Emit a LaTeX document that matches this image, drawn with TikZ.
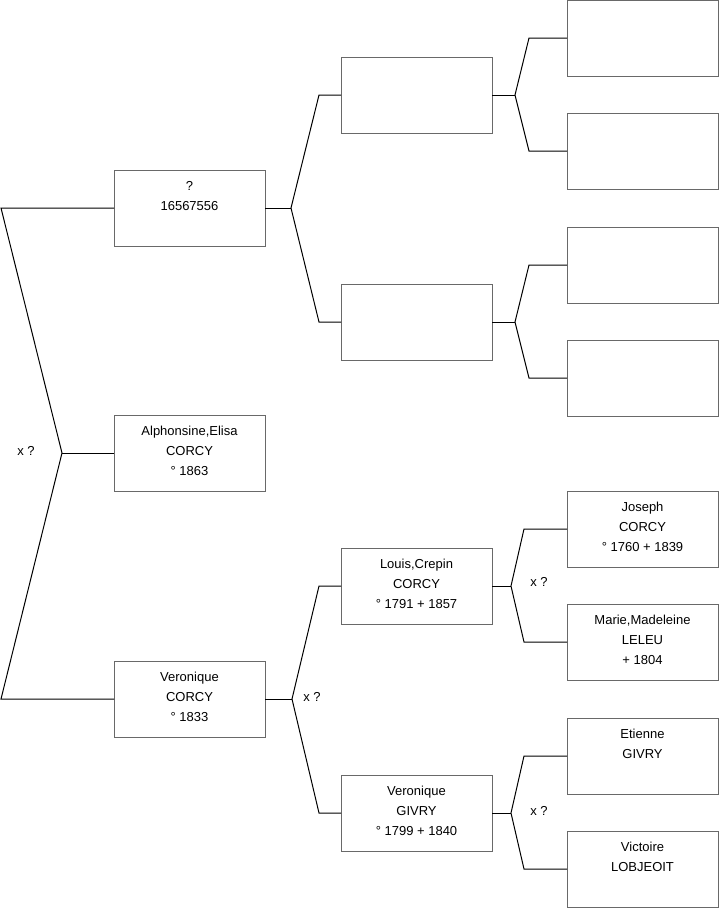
\documentclass[tikz,border=0pt]{standalone}
\usepackage{fontspec}
\setmainfont{Liberation Sans}
\definecolor{boxgray}{RGB}{105,105,105}
\begin{document}
\begin{tikzpicture}[x=1pt,y=-1pt,
  box/.style={draw=boxgray,line width=1pt,fill=white,rectangle,minimum width=151pt,minimum height=76pt,inner sep=0pt,outer sep=0pt},
  txt/.style={anchor=north,align=center,inner sep=0pt,font=\fontsize{13}{20}\selectfont},
  lbl/.style={inner sep=0pt,font=\fontsize{13}{16}\selectfont},
  conn/.style={draw=black,line width=1pt}]
\useasboundingbox (0,0) rectangle (719,908);
% level 1
\node[box] (a) at (189.5,208) {};
\node[box] (b) at (189.5,453) {};
\node[box] (c) at (189.5,699) {};
% level 2
\node[box] (a1) at (416.5,95) {};
\node[box] (a2) at (416.5,322) {};
\node[box] (c1) at (416.5,586) {};
\node[box] (c2) at (416.5,813) {};
% level 3
\node[box] (a11) at (642.5,38) {};
\node[box] (a12) at (642.5,151) {};
\node[box] (a21) at (642.5,265) {};
\node[box] (a22) at (642.5,378) {};
\node[box] (c11) at (642.5,529) {};
\node[box] (c12) at (642.5,642) {};
\node[box] (c21) at (642.5,756) {};
\node[box] (c22) at (642.5,869) {};
% texts
\node[txt] (ta) at ([yshift=-11pt]a.north) {?\\16567556};
\node[txt] (tb) at ([yshift=-11pt]b.north) {Alphonsine,Elisa\\CORCY\\° 1863};
\node[txt] (tc) at ([yshift=-11pt]c.north) {Veronique\\CORCY\\° 1833};
\node[txt] (tc1) at ([yshift=-11pt]c1.north) {Louis,Crepin\\CORCY\\° 1791 + 1857};
\node[txt] (tc2) at ([yshift=-11pt]c2.north) {Veronique\\GIVRY\\° 1799 + 1840};
\node[txt] (tc11) at ([yshift=-11pt]c11.north) {Joseph\\CORCY\\° 1760 + 1839};
\node[txt] (tc12) at ([yshift=-11pt]c12.north) {Marie,Madeleine\\LELEU\\+ 1804};
\node[txt] (tc21) at ([yshift=-11pt]c21.north) {Etienne\\GIVRY};
\node[txt] (tc22) at ([yshift=-11pt]c22.north) {Victoire\\LOBJEOIT};
% root bracket
\coordinate (r0) at (62,453);
\coordinate (r1) at (1,208);
\coordinate (r2) at (1,699);
\draw[conn] (a.west) -- (r1) -- (r0) -- (r2) -- (c.west);
\draw[conn] (r0) -- (b.west);
\node[lbl] (x0) at (26,451) {x ?};
% a -> a1, a2
\coordinate (ja) at (291,208);
\coordinate (ja1) at (319,95);
\coordinate (ja2) at (319,322);
\draw[conn] (a.east) -- (ja);
\draw[conn] (a1.west) -- (ja1) -- (ja) -- (ja2) -- (a2.west);
% c -> c1, c2
\coordinate (jc) at (292,699);
\coordinate (jc1) at (319,586);
\coordinate (jc2) at (319,813);
\draw[conn] (c.east) -- (jc);
\draw[conn] (c1.west) -- (jc1) -- (jc) -- (jc2) -- (c2.west);
\node[lbl] (xc) at (312,697) {x ?};
% a1 -> a11, a12
\coordinate (ja1j) at (515,95);
\coordinate (ja11) at (529,38);
\coordinate (ja12) at (529,151);
\draw[conn] (a1.east) -- (ja1j);
\draw[conn] (a11.west) -- (ja11) -- (ja1j) -- (ja12) -- (a12.west);
% a2 -> a21, a22
\coordinate (ja2j) at (515,322);
\coordinate (ja21) at (529,265);
\coordinate (ja22) at (529,378);
\draw[conn] (a2.east) -- (ja2j);
\draw[conn] (a21.west) -- (ja21) -- (ja2j) -- (ja22) -- (a22.west);
% c1 -> c11, c12
\coordinate (jc1j) at (511,586);
\coordinate (jc11) at (524,529);
\coordinate (jc12) at (524,642);
\draw[conn] (c1.east) -- (jc1j);
\draw[conn] (c11.west) -- (jc11) -- (jc1j) -- (jc12) -- (c12.west);
\node[lbl] (xc1) at (539,582) {x ?};
% c2 -> c21, c22
\coordinate (jc2j) at (511,813);
\coordinate (jc21) at (524,756);
\coordinate (jc22) at (524,869);
\draw[conn] (c2.east) -- (jc2j);
\draw[conn] (c21.west) -- (jc21) -- (jc2j) -- (jc22) -- (c22.west);
\node[lbl] (xc2) at (539,811) {x ?};
\end{tikzpicture}
\end{document}
